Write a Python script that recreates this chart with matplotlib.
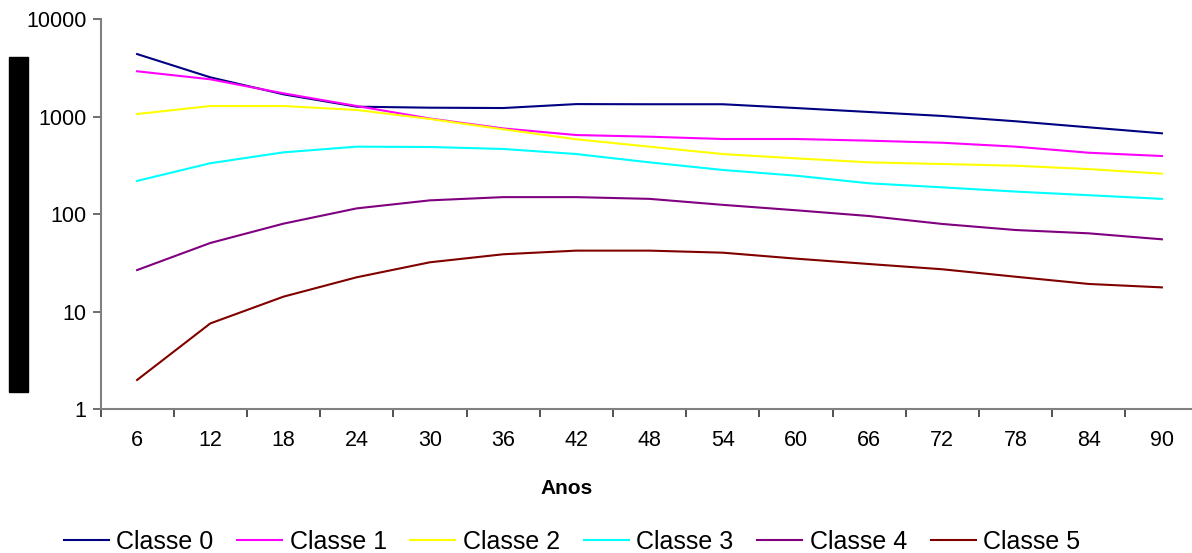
import numpy as np
import matplotlib.pyplot as plt
from matplotlib.patches import Rectangle
from matplotlib.ticker import FixedLocator, NullLocator

plt.rcParams['font.family'] = ['Liberation Sans', 'DejaVu Sans']

# Dados (anos e valores por classe)
anos = [6, 12, 18, 24, 30, 36, 42, 48, 54, 60, 66, 72, 78, 84, 90]
classe0 = [4400, 2540, 1700, 1270, 1240, 1230, 1350, 1345, 1345, 1230, 1120, 1020, 900, 780, 677]
classe1 = [2930, 2425, 1740, 1290, 960, 760, 650, 625, 592, 592, 569, 542, 494, 428, 396]
classe2 = [1068, 1290, 1290, 1175, 950, 745, 588, 494, 415, 375, 341, 328, 315, 291, 261]
classe3 = [220, 334, 432, 494, 490, 468, 415, 341, 285, 249, 208, 189, 171, 157, 144]
classe4 = [26.8, 50.8, 80.2, 115, 139, 150, 150, 144, 125, 110, 96, 79.6, 69, 63.8, 55.4]
classe5 = [2.0, 7.6, 14.3, 22.6, 32.2, 38.9, 42.4, 42.4, 40.4, 35.1, 30.9, 27.3, 22.9, 19.3, 17.8]

series = [classe0, classe1, classe2, classe3, classe4, classe5]
nomes = ['Classe 0', 'Classe 1', 'Classe 2', 'Classe 3', 'Classe 4', 'Classe 5']
cores = ['#000080', '#FF00FF', '#FFFF00', '#00FFFF', '#800080', '#800000']

W, H = 1192, 553
fig = plt.figure(figsize=(W / 100, H / 100), dpi=100)
# área do gráfico em pixels: x 100.5 -> 1198.5, y 19.3 -> 409.3
ax = fig.add_axes([100.5 / W, 1 - 409.3 / H, 1098 / W, 390 / H])

x = np.arange(len(anos))
for vals, nome, cor in zip(series, nomes, cores):
    ax.plot(x, vals, color=cor, lw=1.5, label=nome)

ax.set_yscale('log')
ax.set_ylim(1, 10000)
ax.set_xlim(-0.5, len(anos) - 0.5)

ax.yaxis.set_major_locator(FixedLocator([1, 10, 100, 1000, 10000]))
ax.yaxis.set_minor_locator(NullLocator())
ax.set_yticklabels(['1', '10', '100', '1000', '10000'])

ax.set_xticks(x)
ax.set_xticklabels([str(a) for a in anos])
ax.set_xticks(np.arange(len(anos) + 1) - 0.5, minor=True)
ax.tick_params(axis='x', which='major', length=0, pad=15, labelsize=15.5)
ax.tick_params(axis='x', which='minor', length=6, width=1.2, color='#333333', direction='out')
ax.tick_params(axis='y', which='major', length=6, width=1.2, color='#555555',
               direction='out', labelsize=15.5, pad=4)

for s in ['top', 'right']:
    ax.spines[s].set_visible(False)
for s in ['left', 'bottom']:
    ax.spines[s].set_color('#808080')
    ax.spines[s].set_linewidth(1.5)

fig.text(567 / W, 1 - 488 / H, 'Anos', ha='center', va='center',
         fontsize=15, fontweight='bold')

# barra preta à esquerda (rótulo do eixo y ocultado)
fig.patches.append(Rectangle((9 / W, 1 - 392 / H), 19 / W, 335 / H,
                             transform=fig.transFigure, color='black'))

fig.legend(loc='center', bbox_to_anchor=(572 / W, 1 - 542 / H), ncol=6,
           frameon=False, fontsize=18, handlelength=1.8, handletextpad=0.3,
           columnspacing=0.95, borderpad=0)

fig.savefig('out.png', dpi=100)
